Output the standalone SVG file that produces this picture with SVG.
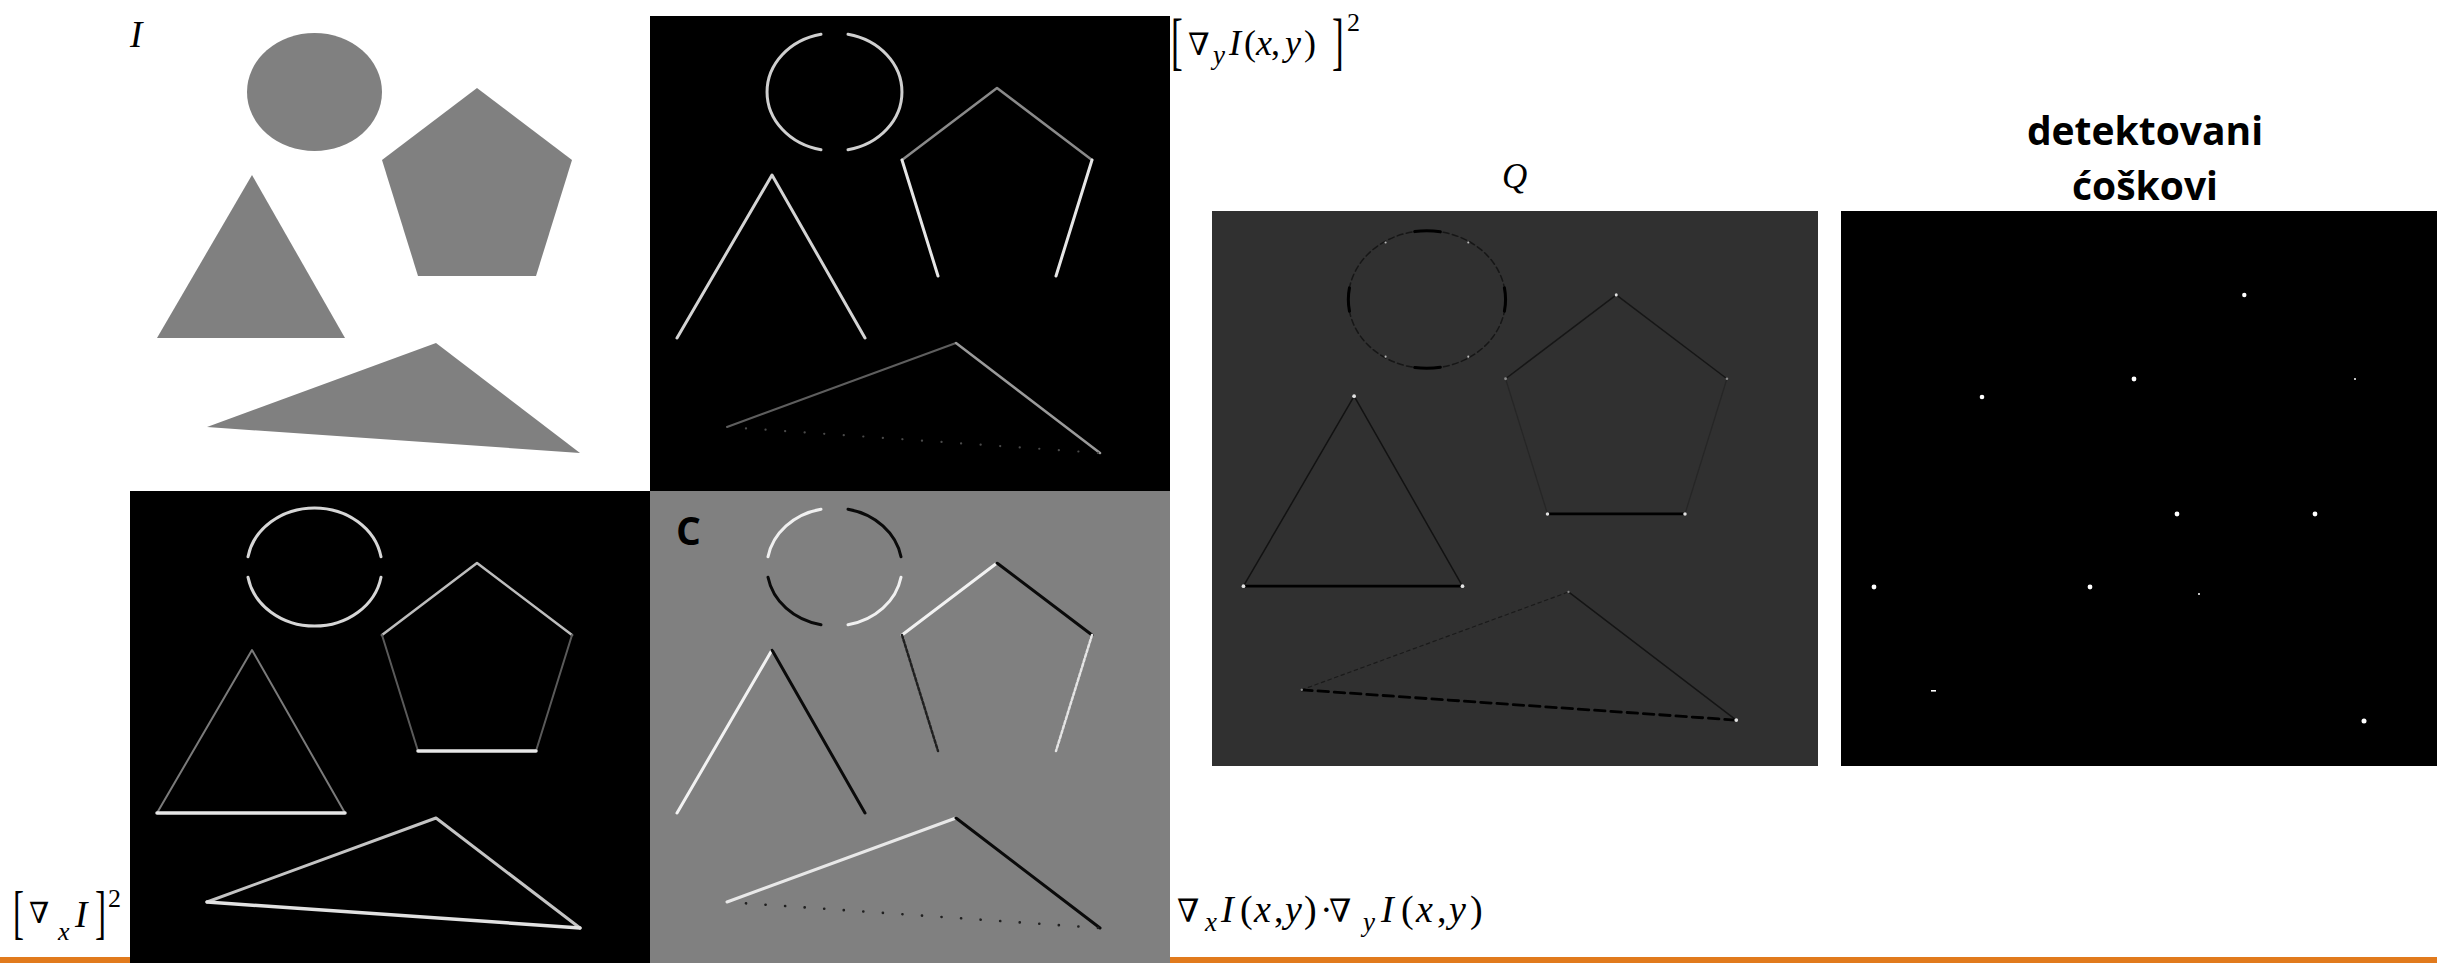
<svg xmlns="http://www.w3.org/2000/svg" width="2437" height="963" viewBox="0 0 2437 963">
<style>
.m{font-family:"Liberation Serif","DejaVu Serif",serif;fill:#000}
.it{font-style:italic}
.b{font-family:"Open Sans","Noto Sans","DejaVu Sans",sans-serif;font-weight:700;fill:#000}
.e{fill:none;stroke-linecap:round;stroke-linejoin:round}
.g{fill:#808080}
.dot{fill:#fff}
</style>
<rect x="0" y="0" width="2437" height="963" fill="#fff"/>
<rect id="rule" x="0" y="957" width="2437" height="6" fill="#E17A1C"/>

<g id="panel-I">
  <g transform="translate(130,16)" class="g">
    <ellipse cx="184.5" cy="76" rx="67.5" ry="59"/>
    <polygon points="347,72 442,144 406,260 288,260 252,144"/>
    <polygon points="122,159 215,322 27,322"/>
    <polygon points="77,411 306,327 450,437"/>
  </g>
  <text class="m it" x="130" y="47" font-size="37">I</text>
</g>

<g id="panel-gy">
  <rect x="650" y="16" width="520" height="475" fill="#000"/>
  <g transform="translate(650,16)" class="e">
    <path d="M198,18.2 A67.5,59 0 0 1 198,133.8 M171,133.8 A67.5,59 0 0 1 171,18.2" stroke="#cfcfcf" stroke-width="3"/>
    <path d="M252,144 L347,72 L442,144" stroke="#8a8a8a" stroke-width="2.5"/>
    <path d="M252,144 L288,260 M442,144 L406,260" stroke="#e6e6e6" stroke-width="3"/>
    <path d="M27,322 L122,159 L215,322" stroke="#d4d4d4" stroke-width="3"/>
    <path d="M77,411 L306,327" stroke="#5e5e5e" stroke-width="2"/>
    <path d="M306,327 L450,437" stroke="#9a9a9a" stroke-width="2.5"/>
    <path d="M77,411 L450,437" stroke="#4a4a4a" stroke-width="2.2" stroke-dasharray="0.1 19.5" stroke-dashoffset="-19"/>
  </g>
  <text class="m" transform="translate(1171,62) scale(0.55,1)" font-size="64">[</text>
  <text class="m" y="55" font-size="36"><tspan x="1188" font-size="31">∇</tspan><tspan class="it" x="1213" y="64" font-size="27">y</tspan><tspan class="it" x="1229" y="55">I</tspan><tspan x="1244">(</tspan><tspan class="it" x="1256">x</tspan><tspan x="1271">,</tspan><tspan class="it" x="1285">y</tspan><tspan x="1304">)</tspan></text>
  <text class="m" transform="translate(1332,62) scale(0.55,1)" font-size="64">]</text>
  <text class="m" x="1347" y="31" font-size="26">2</text>
</g>

<g id="panel-gx">
  <rect x="130" y="491" width="520" height="472" fill="#000"/>
  <g transform="translate(130,491)" class="e">
    <path d="M118,65.8 A67.5,59 0 0 1 251,65.8 M251,86.2 A67.5,59 0 0 1 118,86.2" stroke="#d6d6d6" stroke-width="3"/>
    <path d="M252,144 L347,72 L442,144" stroke="#bdbdbd" stroke-width="2.5"/>
    <path d="M252,144 L288,260 M442,144 L406,260" stroke="#5a5a5a" stroke-width="2"/>
    <path d="M288,260 L406,260" stroke="#e8e8e8" stroke-width="3.5"/>
    <path d="M27,322 L122,159 L215,322" stroke="#7a7a7a" stroke-width="2"/>
    <path d="M27,322 L215,322" stroke="#e6e6e6" stroke-width="3.5"/>
    <path d="M77,411 L306,327 L450,437" stroke="#c4c4c4" stroke-width="3"/>
    <path d="M77,411 L450,437" stroke="#e2e2e2" stroke-width="3.5"/>
  </g>
  <text class="m" transform="translate(13,932) scale(0.55,1)" font-size="60">[</text>
  <text class="m" y="927" font-size="37"><tspan x="29" y="923" font-size="29">∇</tspan><tspan class="it" x="58" y="940" font-size="26">x</tspan><tspan class="it" x="75" y="927">I</tspan></text>
  <text class="m" transform="translate(95,932) scale(0.55,1)" font-size="60">]</text>
  <text class="m" x="108" y="907" font-size="26">2</text>
</g>

<g id="panel-C">
  <rect x="650" y="491" width="520" height="472" fill="#808080"/>
  <g transform="translate(650,491)" class="e">
    <path d="M118,65.8 A67.5,59 0 0 1 171,18.2 M251,86.2 A67.5,59 0 0 1 198,133.8" stroke="#f0f0f0" stroke-width="3"/>
    <path d="M198,18.2 A67.5,59 0 0 1 251,65.8 M171,133.8 A67.5,59 0 0 1 118,86.2" stroke="#0a0a0a" stroke-width="3"/>
    <path d="M252,144 L347,72" stroke="#f2f2f2" stroke-width="3"/>
    <path d="M347,72 L442,144" stroke="#0a0a0a" stroke-width="3"/>
    <path d="M252,144 L288,260" stroke="#202020" stroke-width="2.5" stroke-dasharray="3 2"/>
    <path d="M442,144 L406,260" stroke="#e4e4e4" stroke-width="2.5" stroke-dasharray="3 2"/>
    <path d="M27,322 L122,159" stroke="#f2f2f2" stroke-width="3"/>
    <path d="M122,159 L215,322" stroke="#0a0a0a" stroke-width="3"/>
    <path d="M77,411 L306,327" stroke="#e8e8e8" stroke-width="3"/>
    <path d="M306,327 L450,437" stroke="#0a0a0a" stroke-width="3"/>
    <path d="M77,411 L450,437" stroke="#202020" stroke-width="2.6" stroke-dasharray="0.1 19.5" stroke-dashoffset="-19"/>
  </g>
  <text class="b" x="676" y="545" font-size="39">C</text>
  <text class="m" y="922" font-size="38"><tspan x="1177" font-size="32">∇</tspan><tspan class="it" x="1205" y="931" font-size="27">x</tspan><tspan class="it" x="1221" y="922">I</tspan><tspan x="1240">(</tspan><tspan class="it" x="1254">x</tspan><tspan x="1274">,</tspan><tspan class="it" x="1285">y</tspan><tspan x="1304">)</tspan><tspan x="1320">·</tspan><tspan x="1329" font-size="32">∇</tspan><tspan class="it" x="1363" y="931" font-size="27">y</tspan><tspan class="it" x="1381" y="922">I</tspan><tspan x="1401">(</tspan><tspan class="it" x="1416">x</tspan><tspan x="1437">,</tspan><tspan class="it" x="1449">y</tspan><tspan x="1470">)</tspan></text>
</g>

<g id="panel-Q">
  <rect x="1212" y="211" width="606" height="555" fill="#303030"/>
  <g transform="translate(1212,211) scale(1.165)" class="e">
    <ellipse cx="184.5" cy="76" rx="67.5" ry="59" stroke="#161616" stroke-width="1.3" stroke-dasharray="5 3"/>
    <path d="M174,17.7 A67.5,59 0 0 1 196,17.9 M196,134.1 A67.5,59 0 0 1 174,134.3 M118,86 A67.5,59 0 0 1 118,66 M251,66 A67.5,59 0 0 1 251,86" stroke="#000" stroke-width="2.6"/>
    <path d="M27,322 L122,159 L215,322" stroke="#121212" stroke-width="1.3"/>
    <path d="M27,322 L215,322" stroke="#000" stroke-width="2.5"/>
    <path d="M252,144 L347,72 L442,144" stroke="#161616" stroke-width="1.3"/>
    <path d="M252,144 L288,260 M442,144 L406,260" stroke="#262626" stroke-width="1.1"/>
    <path d="M288,260 L406,260" stroke="#000" stroke-width="2.5"/>
    <path d="M77,411 L306,327" stroke="#1a1a1a" stroke-width="1" stroke-dasharray="3 3"/>
    <path d="M306,327 L450,437" stroke="#141414" stroke-width="1.3"/>
    <path d="M77,411 L450,437" stroke="#000" stroke-width="2.4" stroke-dasharray="9 5"/>
    <g fill="#bbb">
      <circle cx="149" cy="27" r="0.9"/><circle cx="220" cy="27" r="0.9"/>
      <circle cx="149" cy="125" r="0.9"/><circle cx="220" cy="125" r="0.9"/>
    </g>
    <g fill="#e2e2e2">
      <circle cx="122" cy="159" r="1.6"/><circle cx="27" cy="322" r="1.6"/><circle cx="215" cy="322" r="1.6"/>
      <circle cx="347" cy="72" r="1.3"/><circle cx="288" cy="260" r="1.5"/><circle cx="406" cy="260" r="1.5"/>
      <circle cx="450" cy="437" r="1.6"/>
    </g>
    <g fill="#8a8a8a">
      <circle cx="252" cy="144" r="1.2"/><circle cx="442" cy="144" r="1.1"/>
      <circle cx="77" cy="411" r="1.1"/><circle cx="306" cy="327" r="1"/>
    </g>
  </g>
  <text class="m it" x="1502" y="188" font-size="35">Q</text>
</g>

<g id="panel-corners">
  <rect x="1841" y="211" width="596" height="555" fill="#000"/>
  <g class="dot">
    <circle cx="2244.3" cy="295" r="2.2"/>
    <circle cx="1982" cy="397" r="2.3"/>
    <circle cx="2134" cy="379" r="2.4"/>
    <circle cx="2355" cy="379" r="1"/>
    <circle cx="2177" cy="514" r="2.4"/>
    <circle cx="2315" cy="514" r="2.4"/>
    <circle cx="1874" cy="587" r="2.4"/>
    <circle cx="2090" cy="587" r="2.4"/>
    <circle cx="2199" cy="594" r="1"/>
    <rect x="1931" y="690" width="5" height="1.6"/>
    <circle cx="2364" cy="721" r="2.5"/>
  </g>
  <text class="b" x="2145" y="145" font-size="39" text-anchor="middle">detektovani</text>
  <text class="b" x="2145" y="200" font-size="39" text-anchor="middle">ćoškovi</text>
</g>
</svg>
